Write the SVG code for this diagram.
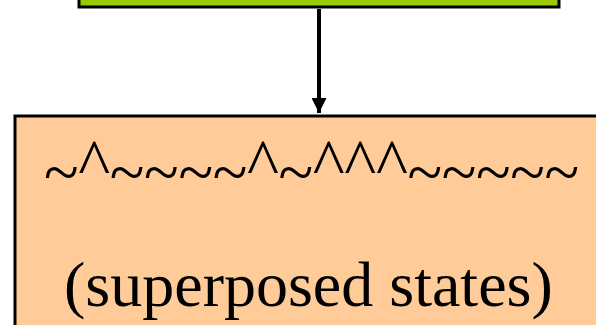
<svg xmlns="http://www.w3.org/2000/svg" width="596" height="325" viewBox="0 0 596 325">
<style>
.box{stroke:#000;stroke-width:3}
.t{font-family:"Liberation Serif","Times New Roman",serif;font-size:64px;fill:#000}
.c{font-size:68px}
</style>
<defs>
<marker id="ah" markerWidth="15" markerHeight="15" refX="15" refY="7.5" orient="auto" markerUnits="userSpaceOnUse">
<path d="M0,0 L15,7.5 L0,15 Z" fill="#000"/>
</marker>
</defs>
<rect width="596" height="325" fill="#fff"/>
<g id="top">
<rect class="box" x="79" y="-20" width="480" height="27" fill="#99cc00"/>
</g>
<g id="connectors">
<line x1="319" y1="9" x2="319" y2="113" stroke="#000" stroke-width="4" marker-end="url(#ah)"/>
</g>
<g id="states">
<rect class="box" x="15" y="116" width="620" height="230" fill="#ffcc99"/>
<text class="t" x="44" y="194" letter-spacing="-0.35">~<tspan class="c" y="186">^</tspan><tspan y="194">~~~~</tspan><tspan class="c" y="186">^</tspan><tspan y="194">~</tspan><tspan class="c" y="186">^^^</tspan><tspan y="194">~~~~~</tspan></text>
<text class="t" x="64" y="306">(superposed states)</text>
</g>
</svg>
